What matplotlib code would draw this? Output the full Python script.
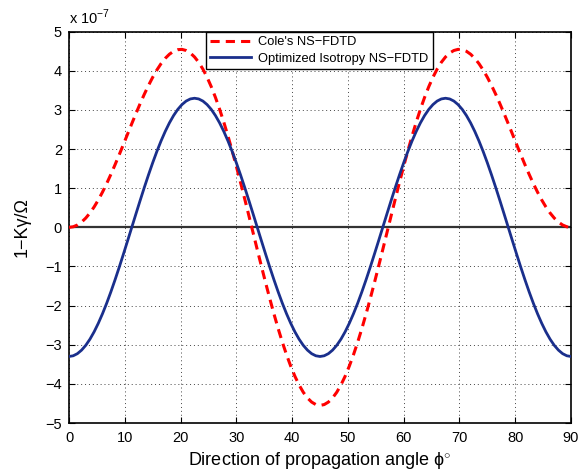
import matplotlib
matplotlib.use("Agg")
import matplotlib.pyplot as plt

plt.rcParams['font.family'] = ['Liberation Sans', 'DejaVu Sans']
plt.rcParams['mathtext.fontset'] = 'custom'
plt.rcParams['mathtext.rm'] = 'Liberation Sans'

# angle (degrees), step 0.75
angle = [i * 0.75 for i in range(121)]

# Cole's NS-FDTD, 0..45 deg (symmetric about 45)
cole_half = [0.000, 0.015, 0.060, 0.134, 0.237, 0.367, 0.522, 0.700, 0.900, 1.119,
             1.353, 1.600, 1.856, 2.119, 2.384, 2.649, 2.909, 3.161, 3.402, 3.627,
             3.835, 4.021, 4.184, 4.319, 4.425, 4.500, 4.541, 4.549, 4.520, 4.456,
             4.355, 4.218, 4.045, 3.837, 3.595, 3.322, 3.019, 2.688, 2.333, 1.956,
             1.560, 1.149, 0.727, 0.298, -0.136, -0.569, -0.997, -1.417, -1.825,
             -2.216, -2.588, -2.936, -3.256, -3.547, -3.806, -4.028, -4.214, -4.360,
             -4.465, -4.529, -4.550]
cole = cole_half + cole_half[-2::-1]

# Optimized isotropy NS-FDTD, 0..22.5 deg (symmetric about 22.5, period 45)
opt_quarter = [-3.300, -3.282, -3.228, -3.138, -3.015, -2.858, -2.670, -2.452, -2.208,
               -1.940, -1.650, -1.342, -1.020, -0.686, -0.345, 0.000, 0.345, 0.686,
               1.020, 1.342, 1.650, 1.940, 2.208, 2.452, 2.670, 2.858, 3.015, 3.138,
               3.228, 3.282, 3.300]
opt_half = opt_quarter + opt_quarter[-2::-1]
optimized = opt_half + opt_half[1:]

scale = 1e-7
cole_v = [v * scale for v in cole]
opt_v = [v * scale for v in optimized]

fig = plt.figure(figsize=(5.78, 4.72), dpi=100)
ax = fig.add_axes([0.1194, 0.1038, 0.8685, 0.8290])

ax.plot([0, 90], [0, 0], color='#333333', lw=1.6, zorder=2)
l1, = ax.plot(angle, cole_v, color='#ff0000', lw=2.2, ls=(0, (3, 2.0)), zorder=3,
              label="Cole's NS\u2212FDTD")
l2, = ax.plot(angle, opt_v, color='#1a2f8c', lw=2.0, zorder=4,
              label="Optimized Isotropy NS\u2212FDTD")

ax.set_xlim(0, 90)
ax.set_ylim(-5e-7, 5e-7)
xt = list(range(0, 91, 10))
yt = [-5, -4, -3, -2, -1, 0, 1, 2, 3, 4, 5]
ax.set_xticks(xt)
ax.set_xticklabels([str(v) for v in xt])
ax.set_yticks([v * scale for v in yt])
ax.set_yticklabels([str(v).replace('-', '\u2212') for v in yt])
ax.tick_params(direction='in', top=True, right=True, length=4, width=0.8,
               labelsize=10.5)
ax.tick_params(axis='x', pad=6)
ax.tick_params(axis='y', pad=5)
ax.grid(True, ls=(0, (1, 3)), color='#444444', lw=0.7)
for s in ax.spines.values():
    s.set_linewidth(1.2)

ax.text(0.0, 1.012, 'x 10$^{\u22127}$', transform=ax.transAxes, fontsize=10.5,
        ha='left', va='bottom')

ax.set_xlabel('Direction of propagation angle \u03d5$^{\\circ}$', fontsize=13, labelpad=3)
ax.set_ylabel('1\u2212K\u03b3/\u03a9', fontsize=13, labelpad=11)

leg = ax.legend(handles=[l1, l2], loc='upper left', bbox_to_anchor=(0.272, 1.0),
                fontsize=9.3, frameon=True, fancybox=False, edgecolor='black',
                framealpha=1, borderpad=0.35, labelspacing=0.35, handlelength=3.2,
                handletextpad=0.5, borderaxespad=0.0)
leg.get_frame().set_linewidth(1.0)

fig.savefig('out.png', dpi=100)
